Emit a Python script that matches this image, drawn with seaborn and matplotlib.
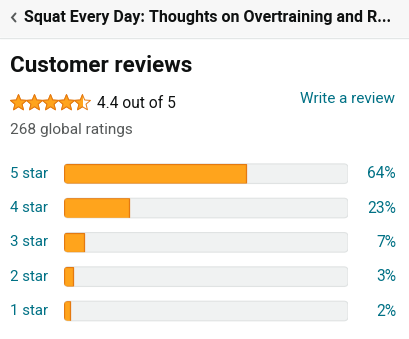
import numpy as np
import pandas as pd
import matplotlib
matplotlib.use("Agg")
import matplotlib.pyplot as plt
from matplotlib.patches import FancyBboxPatch, Polygon, Rectangle
import seaborn as sns

# ---- data ----
star_labels = ["5 star", "4 star", "3 star", "2 star", "1 star"]
percentages = [64, 23, 7, 3, 2]
track_values = [100, 100, 100, 100, 100]
title_text = "Squat Every Day: Thoughts on Overtraining and R..."
heading = "Customer reviews"
average_rating = 4.4
rating_text = "4.4 out of 5"
ratings_count_text = "268 global ratings"
write_text = "Write a review"

sns.set_theme(style="white")
plt.rcParams["font.family"] = ["Roboto", "DejaVu Sans"]

W, H = 409, 339
fig = plt.figure(figsize=(W / 100, H / 100), dpi=100)
fig.patch.set_facecolor("white")

# overlay axes in pixel coordinates
ax0 = fig.add_axes([0, 0, 1, 1])
ax0.set_xlim(0, W)
ax0.set_ylim(H, 0)
ax0.axis("off")

TEAL = "#007185"
DARK = "#0f1111"
GRAY = "#565959"
ORANGE = "#ffa41c"
ORANGE_EDGE = "#e47911"

# header band
ax0.add_patch(Rectangle((0, 0), W, 37, facecolor="#f7f7f7", edgecolor="none"))
ax0.plot([0, W], [37.5, 37.5], color="#e3e6e6", lw=1)
ax0.plot([15.5, 12, 15.5], [13.5, 17.5, 21.5], color="#565959", lw=1.4,
         solid_capstyle="round", solid_joinstyle="miter")
ax0.text(24, 17.5, title_text, fontsize=11.5, fontweight="bold", color=DARK,
         va="center", ha="left")

# heading
ax0.text(9.5, 66, heading, fontsize=16.1, fontweight="bold", color=DARK,
         va="center", ha="left")

# stars
def star_pts(cx, cy, R=8.4, r=3.7):
    pts = []
    for i in range(10):
        ang = -np.pi / 2 + i * np.pi / 5
        rad = R if i % 2 == 0 else r
        pts.append((cx + rad * np.cos(ang), cy + rad * np.sin(ang)))
    return pts

star_cy = 103
for i in range(5):
    cx = 18.5 + i * 16
    frac = min(max(average_rating - i, 0), 1)
    outline = Polygon(star_pts(cx, star_cy), closed=True, facecolor="white",
                      edgecolor=ORANGE_EDGE, lw=0.7, joinstyle="round")
    ax0.add_patch(outline)
    if frac > 0:
        filled = Polygon(star_pts(cx, star_cy), closed=True, facecolor=ORANGE,
                         edgecolor=ORANGE_EDGE, lw=0.7, joinstyle="round")
        ax0.add_patch(filled)
        if frac < 1:
            clip = Rectangle((cx - 9, star_cy - 10), 9, 20,
                             transform=ax0.transData)
            filled.set_clip_path(clip)

ax0.text(97, 103, rating_text, fontsize=11.2, color=DARK, va="center", ha="left")
ax0.text(395, 99, write_text, fontsize=11.0, color=TEAL, va="center", ha="right")
ax0.text(10, 130, ratings_count_text, fontsize=11.1, color=GRAY, va="center", ha="left")

# ---- bar chart ----
left_px, right_px = 64, 348
top_center, bottom_center = 173.7, 311
step = (bottom_center - top_center) / 4
top_px = top_center - step / 2
bot_px = bottom_center + step / 2
ax = fig.add_axes([left_px / W, 1 - bot_px / H, (right_px - left_px) / W,
                   (bot_px - top_px) / H])
ax.patch.set_alpha(0)

df = pd.DataFrame({"label": star_labels, "pct": percentages, "track": track_values})
bar_h = 0.57
sns.barplot(data=df, x="track", y="label", orient="h", color="#f0f2f2",
            edgecolor="#d5d9d9", linewidth=0.8, width=bar_h, saturation=1, ax=ax)
n_track = len(ax.patches)
sns.barplot(data=df, x="pct", y="label", orient="h", color=ORANGE,
            edgecolor=ORANGE_EDGE, linewidth=0.9, width=bar_h, saturation=1, ax=ax)

ax.set_xlim(0, 100)
ax.set_ylim(len(star_labels) - 0.5, -0.5)
ax.axis("off")

x_per_px = 100 / (right_px - left_px)
y_per_px = 1 / step
rs = 4 * x_per_px
aspect = y_per_px / x_per_px

patches = list(ax.patches)
tracks = patches[:n_track]
fills = patches[n_track:]
rounded_tracks = []
for p in tracks:
    x, y = p.get_x(), p.get_y()
    w, h = p.get_width(), p.get_height()
    rp = FancyBboxPatch((x, y), w, h,
                        boxstyle=f"round,pad=0,rounding_size={rs}",
                        mutation_aspect=aspect, facecolor="#f0f2f2",
                        edgecolor="#e0e3e3", lw=0.8, zorder=1)
    p.remove()
    ax.add_patch(rp)
    rounded_tracks.append(rp)
for p, rp in zip(fills, rounded_tracks):
    p.set_zorder(2)
    p.set_clip_path(rp)

# labels
for i, (lab, pct) in enumerate(zip(star_labels, percentages)):
    yc = top_center + i * step
    ax0.text(10, yc, lab, fontsize=10.8, color=TEAL, va="center", ha="left")
    ax0.text(396, yc, f"{pct}%", fontsize=11.2, color=TEAL, va="center", ha="right")

fig.savefig("out.png", dpi=100, facecolor="white")
